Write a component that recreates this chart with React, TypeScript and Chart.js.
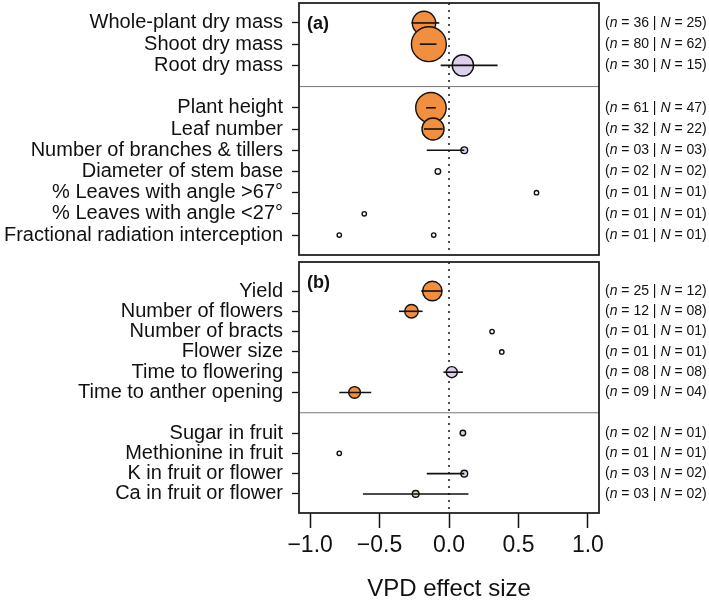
import React, { useEffect, useRef } from "react";
import { Chart, registerables } from "chart.js";

Chart.register(...registerables);

const FONT = '"Liberation Sans", Arial, Helvetica, sans-serif';

// ---------- Panel (a) ----------
const aLabels = [
  "Whole-plant dry mass",
  "Shoot dry mass",
  "Root dry mass",
  "Plant height",
  "Leaf number",
  "Number of branches & tillers",
  "Diameter of stem base",
  "% Leaves with angle >67°",
  "% Leaves with angle <27°",
  "Fractional radiation interception",
];
const aEffect = [-0.18, -0.145, 0.1, -0.13, -0.115, 0.11, -0.08, 0.63, -0.61, -0.79];
const aLow: (number | null)[] = [-0.27, -0.21, -0.06, -0.165, -0.18, -0.16, null, null, null, null];
const aHigh: (number | null)[] = [-0.07, -0.09, 0.35, -0.095, -0.045, 0.11, null, null, null, null];
const aN = [36, 80, 30, 61, 32, 3, 2, 1, 1, 1];
const aStudies = [25, 62, 15, 47, 22, 3, 2, 1, 1, 1];
const aClass = ["neg", "neg", "ns", "neg", "neg", "ns", "single", "single", "single", "single"];
const aExtraItem = [9];
const aExtraEffect = [-0.11];

// ---------- Panel (b) ----------
const bLabels = [
  "Yield",
  "Number of flowers",
  "Number of bracts",
  "Flower size",
  "Time to flowering",
  "Time to anther opening",
  "Sugar in fruit",
  "Methionine in fruit",
  "K in fruit or flower",
  "Ca in fruit or flower",
];
const bEffect = [-0.12, -0.27, 0.31, 0.38, 0.02, -0.68, 0.1, -0.79, 0.11, -0.24];
const bLow: (number | null)[] = [-0.2, -0.36, null, null, -0.04, -0.79, null, null, -0.16, -0.62];
const bHigh: (number | null)[] = [-0.05, -0.19, null, null, 0.1, -0.56, null, null, 0.11, 0.14];
const bN = [25, 12, 1, 1, 8, 9, 2, 1, 3, 3];
const bStudies = [12, 8, 1, 1, 8, 4, 1, 1, 2, 2];
const bClass = ["neg", "neg", "single", "single", "ns", "neg", "ns", "single", "ns", "tan"];

const xTicks = [-1, -0.5, 0, 0.5, 1];
const X_MIN = -1.08;
const X_MAX = 1.08;

const FILL: Record<string, string> = {
  neg: "#F28F3F",
  ns: "#DCD0EA",
  single: "#FFFFFF",
  tan: "#EDD3AE",
};

type Panel = {
  letter: string;
  labels: string[];
  effect: number[];
  low: (number | null)[];
  high: (number | null)[];
  n: number[];
  studies: number[];
  cls: string[];
  gapAfter: number;
  yMin: number;
  yMax: number;
  extraItem: number[];
  extraEffect: number[];
};

const radiusFor = (n: number) => Math.max(2.2, 1.95 * Math.sqrt(n));
const pad2 = (v: number) => String(v).padStart(2, "0");
const fmtTick = (v: number) => (v < 0 ? "\u2212" + Math.abs(v).toFixed(1) : v.toFixed(1));

function buildConfig(p: Panel, showX: boolean, padTop: number, padBottom: number): any {
  const rows = p.labels.map((_, i) => (i < p.gapAfter ? i + 1 : i + 2));
  const gapRow = p.gapAfter + 1;
  const labelByRow = new Map<number, string>(rows.map((r, i) => [r, p.labels[i]]));

  const datasets: any[] = [];
  p.low.forEach((lo, i) => {
    const hi = p.high[i];
    if (lo == null || hi == null) return;
    datasets.push({
      showLine: true,
      data: [
        { x: lo, y: rows[i] },
        { x: hi, y: rows[i] },
      ],
      borderColor: "#111",
      borderWidth: 1.6,
      pointRadius: 0,
    });
  });

  const pts = p.effect.map((e, i) => ({ x: e, y: rows[i] }));
  const radii = p.n.map(radiusFor);
  const fills = p.cls.map((c) => FILL[c]);
  p.extraItem.forEach((idx, k) => {
    pts.push({ x: p.extraEffect[k], y: rows[idx] });
    radii.push(radiusFor(p.n[idx]));
    fills.push(FILL[p.cls[idx]]);
  });
  datasets.push({
    data: pts,
    pointRadius: radii,
    pointBackgroundColor: fills,
    pointBorderColor: "#111",
    pointBorderWidth: 1.4,
  });

  datasets.push({
    showLine: true,
    data: [
      { x: X_MIN, y: gapRow },
      { x: X_MAX, y: gapRow },
    ],
    borderColor: "#777",
    borderWidth: 1,
    pointRadius: 0,
  });

  datasets.push({
    showLine: true,
    data: [
      { x: 0, y: p.yMin },
      { x: 0, y: p.yMax },
    ],
    borderColor: "#222",
    borderWidth: 1.6,
    borderDash: [2, 5],
    pointRadius: 0,
  });

  const decor = {
    id: "decor" + p.letter,
    afterDraw(chart: any) {
      const { ctx, chartArea } = chart;
      const ys = chart.scales.y;
      ctx.save();
      ctx.strokeStyle = "#222";
      ctx.lineWidth = 1.8;
      ctx.strokeRect(chartArea.left, chartArea.top, chartArea.right - chartArea.left, chartArea.bottom - chartArea.top);

      ctx.fillStyle = "#111";
      ctx.textBaseline = "middle";
      ctx.textAlign = "left";
      ctx.font = `bold 18px ${FONT}`;
      ctx.fillText(`(${p.letter})`, chartArea.left + 8, chartArea.top + 21);

      rows.forEach((r, i) => {
        const y = ys.getPixelForValue(r);
        let x = chartArea.right + 6;
        const parts: [string, boolean][] = [
          ["(", false],
          ["n", true],
          [` = ${pad2(p.n[i])} | `, false],
          ["N", true],
          [` = ${pad2(p.studies[i])})`, false],
        ];
        for (const [t, it] of parts) {
          ctx.font = `${it ? "italic " : ""}14px ${FONT}`;
          ctx.fillText(t, x, y);
          x += ctx.measureText(t).width;
        }
      });
      ctx.restore();
    },
  };

  return {
    type: "scatter",
    data: { datasets },
    options: {
      animation: false,
      responsive: false,
      devicePixelRatio: 1,
      layout: { autoPadding: false, padding: { top: padTop, bottom: padBottom, left: 0, right: 110 } },
      plugins: { legend: { display: false }, tooltip: { enabled: false }, title: { display: false } },
      scales: {
        x: {
          type: "linear",
          min: X_MIN,
          max: X_MAX,
          display: showX,
          afterBuildTicks: (s: any) => {
            s.ticks = xTicks.map((v) => ({ value: v }));
          },
          afterFit: (s: any) => {
            if (showX) s.height = 91;
            s.paddingLeft = 0;
            s.paddingRight = 0;
            s.paddingTop = 0;
            s.paddingBottom = 0;
          },
          ticks: {
            callback: (v: number) => fmtTick(v),
            font: { family: FONT, size: 23 },
            color: "#111",
            padding: 4,
            maxRotation: 0,
            autoSkip: false,
          },
          grid: {
            drawOnChartArea: false,
            drawTicks: true,
            tickLength: 15,
            tickWidth: 1.5,
            tickColor: "#111",
          },
          border: { display: false },
          title: {
            display: true,
            text: "VPD effect size",
            font: { family: FONT, size: 24 },
            color: "#111",
            padding: { top: 0, bottom: 0 },
          },
        },
        y: {
          type: "linear",
          reverse: true,
          min: p.yMin,
          max: p.yMax,
          afterBuildTicks: (s: any) => {
            s.ticks = rows.map((r) => ({ value: r }));
          },
          afterFit: (s: any) => {
            s.width = 299;
            s.paddingTop = 0;
            s.paddingBottom = 0;
            s.paddingLeft = 0;
            s.paddingRight = 0;
          },
          ticks: {
            callback: (v: number) => labelByRow.get(v) ?? "",
            font: { family: FONT, size: 20 },
            color: "#111",
            padding: 9,
            autoSkip: false,
          },
          grid: {
            drawOnChartArea: false,
            drawTicks: true,
            tickLength: 7,
            tickWidth: 1.3,
            tickColor: "#111",
          },
          border: { display: false },
        },
      },
    },
    plugins: [decor],
  };
}

const panelA: Panel = {
  letter: "a",
  labels: aLabels,
  effect: aEffect,
  low: aLow,
  high: aHigh,
  n: aN,
  studies: aStudies,
  cls: aClass,
  gapAfter: 3,
  yMin: 0.06,
  yMax: 11.94,
  extraItem: aExtraItem,
  extraEffect: aExtraEffect,
};

const panelB: Panel = {
  letter: "b",
  labels: bLabels,
  effect: bEffect,
  low: bLow,
  high: bHigh,
  n: bN,
  studies: bStudies,
  cls: bClass,
  gapAfter: 6,
  yMin: -0.43,
  yMax: 11.94,
  extraItem: [],
  extraEffect: [],
};

export default function App() {
  const refA = useRef<HTMLCanvasElement | null>(null);
  const refB = useRef<HTMLCanvasElement | null>(null);

  useEffect(() => {
    const ca = new Chart(refA.current as HTMLCanvasElement, buildConfig(panelA, false, 3, 5));
    const cb = new Chart(refB.current as HTMLCanvasElement, buildConfig(panelB, true, 4, 0));
    return () => {
      ca.destroy();
      cb.destroy();
    };
  }, []);

  return (
    <div style={{ position: "absolute", left: 0, top: 0, width: 709, height: 604, background: "#fff" }}>
      <canvas
        ref={refA}
        width={709}
        height={260}
        style={{ position: "absolute", left: 0, top: 0, width: 709, height: 260 }}
      />
      <canvas
        ref={refB}
        width={709}
        height={346}
        style={{ position: "absolute", left: 0, top: 258, width: 709, height: 346 }}
      />
    </div>
  );
}
